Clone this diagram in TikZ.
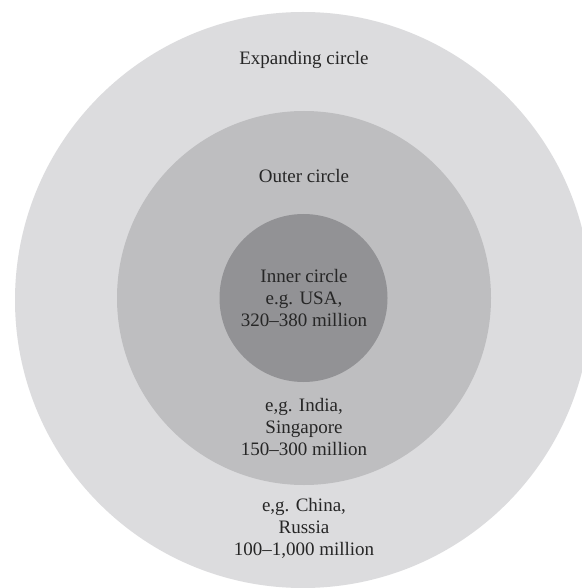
\documentclass[tikz,border=0pt]{standalone}
\usepackage{fontspec}
\setmainfont{Liberation Serif}
\usetikzlibrary{positioning}
\definecolor{expandgray}{RGB}{220,220,222}
\definecolor{outergray}{RGB}{190,190,192}
\definecolor{innergray}{RGB}{146,146,149}
\begin{document}
\begin{tikzpicture}[
x=0.5pt, y=-0.5pt,
font=\fontsize{9.5}{11}\selectfont,
ring/.style={circle, inner sep=0pt, draw=none},
txt/.style={align=center, text=black!85, inner sep=0pt}
]
\clip (0,0) rectangle (582,588);
\fill[white] (0,0) rectangle (582,588);
\node[ring, fill=expandgray, minimum size=288pt] (expanding) at (303,300) {};
\node[ring, fill=outergray, minimum size=187pt] (outer) at (304,298) {};
\node[ring, fill=innergray, minimum size=84pt] (inner) at (303.5,298) {};

\node[txt] (exptitle) at (304,60) {Expanding circle};
\node[txt] (outtitle) at (304,176) {Outer circle};
\node[txt] (inntext) at (304,298) {Inner circle\\e.g. USA,\\320–380 million};
\node[txt] (outtext) at (304,427) {e,g. India,\\Singapore\\150–300 million};
\node[txt] (exptext) at (304,528) {e,g. China,\\Russia\\100–1,000 million};
\end{tikzpicture}
\end{document}
